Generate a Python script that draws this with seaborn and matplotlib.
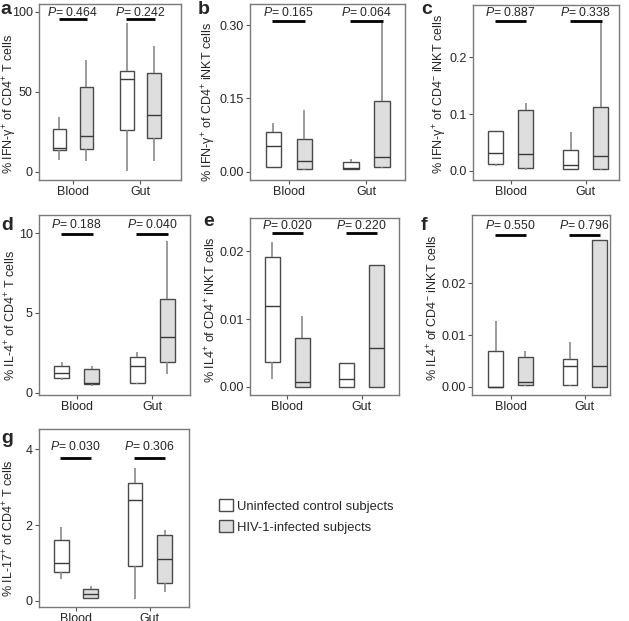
import matplotlib
matplotlib.use("Agg")
import matplotlib.pyplot as plt
from matplotlib.patches import Patch
import seaborn as sns
import pandas as pd

sns.set_style("white")
plt.rcParams["font.family"] = ["Liberation Sans", "DejaVu Sans"]
plt.rcParams["mathtext.fontset"] = "custom"
plt.rcParams["mathtext.rm"] = "Liberation Sans"
plt.rcParams["mathtext.it"] = "Liberation Sans:italic"

tissues = ["Blood", "Gut"]
groups = ["Uninfected control subjects", "HIV-1-infected subjects"]
colors = ["white", "#dedede"]

# five-number summaries (min, q1, median, q3, max)
# order: Blood-uninfected, Blood-HIV, Gut-uninfected, Gut-HIV
ifng_cd4_t = [[7.7, 14, 15.2, 27, 34.4], [6.9, 14.2, 22.3, 53, 69.8],
              [0.6, 26, 58, 63, 93], [7, 21, 35.8, 61.7, 78.7]]
ifng_cd4p_inkt = [[0.009, 0.010, 0.053, 0.081, 0.099], [0.003, 0.005, 0.021, 0.067, 0.126],
                  [0.005, 0.005, 0.007, 0.020, 0.026], [0.007, 0.009, 0.030, 0.144, 0.31]]
ifng_cd4n_inkt = [[0.009, 0.013, 0.032, 0.071, 0.071], [0.001, 0.006, 0.030, 0.107, 0.119],
                  [0.004, 0.004, 0.011, 0.037, 0.069], [0.002, 0.004, 0.026, 0.113, 0.264]]
il4_cd4_t = [[0.79, 0.9, 1.25, 1.67, 1.94], [0.42, 0.55, 0.58, 1.46, 1.67],
             [0.54, 0.58, 1.69, 2.23, 2.56], [1.17, 1.9, 3.5, 5.9, 9.54]]
il4_cd4p_inkt = [[0.0011, 0.0037, 0.0119, 0.0192, 0.0214], [0.0, 0.0, 0.0007, 0.0072, 0.0104],
                 [0.0, 0.0, 0.0011, 0.0035, 0.0035], [0.0, 0.0, 0.0057, 0.018, 0.018]]
il4_cd4n_inkt = [[0.0, 0.0, 0.0, 0.0069, 0.0128], [0.0002, 0.0003, 0.001, 0.0058, 0.0069],
                 [0.0002, 0.0003, 0.004, 0.0053, 0.0086], [0.0, 0.0, 0.0041, 0.0284, 0.0284]]
il17_cd4_t = [[0.59, 0.75, 1.01, 1.6, 1.94], [0.09, 0.09, 0.17, 0.32, 0.40],
              [0.06, 0.92, 2.66, 3.1, 3.49], [0.24, 0.47, 1.1, 1.73, 1.87]]

p_values = {
    "a": ["0.464", "0.242"], "b": ["0.165", "0.064"], "c": ["0.887", "0.338"],
    "d": ["0.188", "0.040"], "e": ["0.020", "0.220"], "f": ["0.550", "0.796"],
    "g": ["0.030", "0.306"],
}

W, H = 629, 621
fig = plt.figure(figsize=(W / 100, H / 100), dpi=100)


def add_ax(l, r, t, b):
    return fig.add_axes([l / W, 1 - b / H, (r - l) / W, (b - t) / H])


def to_frame(summary):
    rows = []
    for i, vals in enumerate(summary):
        for v in vals:
            rows.append({"tissue": tissues[i // 2], "group": groups[i % 2], "value": v})
    return pd.DataFrame(rows)


# (letter, data, ylabel, yticks, ylim, xlim, axes box px, bar y, text y,
#  letter pos px, ylabel right edge px, ylabel centre y px)
panels = [
    ("a", ifng_cd4_t, r"% IFN-γ$^{+}$ of CD4$^{+}$ T cells", [0, 50, 100], (-5, 105),
     (-0.5, 1.6), (39, 181, 4, 180), 95.6, 99.5, (0, 14), 19, 104),
    ("b", ifng_cd4p_inkt, r"% IFN-γ$^{+}$ of CD4$^{+}$ iNKT cells", [0, 0.15, 0.30], (-0.017, 0.343),
     (-0.5, 1.5), (250, 405, 4, 180), 0.309, 0.326, (198, 14), 218, 102),
    ("c", ifng_cd4n_inkt, r"% IFN-γ$^{+}$ of CD4$^{-}$ iNKT cells", [0, 0.1, 0.2], (-0.016, 0.292),
     (-0.5, 1.44), (473, 619, 5, 180), 0.264, 0.279, (421, 14), 449, 94),
    ("d", il4_cd4_t, r"% IL-4$^{+}$ of CD4$^{+}$ T cells", [0, 5, 10], (-0.15, 11.15),
     (-0.5, 1.5), (39, 190, 215, 395), 9.96, 10.55, (1, 230), 18, 316),
    ("e", il4_cd4p_inkt, r"% IL4$^{+}$ of CD4$^{+}$ iNKT cells", [0, 0.01, 0.02], (-0.00123, 0.02495),
     (-0.5, 1.5), (250, 399, 218, 395), 0.0227, 0.0239, (203, 226), 218, 310),
    ("f", il4_cd4n_inkt, r"% IL4$^{+}$ of CD4$^{-}$ iNKT cells", [0, 0.01, 0.02], (-0.0016, 0.0332),
     (-0.52, 1.34), (472, 610, 215, 395), 0.0294, 0.0311, (421, 230), 440, 308),
    ("g", il17_cd4_t, r"% IL-17$^{+}$ of CD4$^{+}$ T cells", [0, 2, 4], (-0.16, 4.53),
     (-0.5, 1.53), (39, 189, 429, 607), 3.76, 4.07, (1, 443), 16, 528),
]

ytick_fmt = {"a": "{:.0f}", "b": "{:.2f}", "c": "{:.1f}", "d": "{:.0f}",
             "e": "{:.2f}", "f": "{:.2f}", "g": "{:.0f}"}

for letter, data, ylabel, yticks, ylim, xlim, box, bar_y, text_y, lpos, lab_x, lab_y in panels:
    ax = add_ax(*box)
    df = to_frame(data)
    sns.boxplot(data=df, x="tissue", y="value", hue="group", order=tissues,
                hue_order=groups, palette=dict(zip(groups, colors)), saturation=1,
                width=0.8, gap=0.5, whis=(0, 100), showcaps=False, fliersize=0,
                linecolor="#4a4a4a", linewidth=1,
                whiskerprops={"color": "#8a8a8a", "linewidth": 1.2},
                medianprops={"color": "#3a3a3a", "linewidth": 1},
                legend=False, ax=ax)
    ax.set_xlim(*xlim)
    ax.set_ylim(*ylim)
    ax.set_yticks(yticks)
    ax.set_yticklabels([ytick_fmt[letter].format(t) for t in yticks], fontsize=9)
    ax.set_xticks([0, 1])
    ax.set_xticklabels(tissues, fontsize=9)
    ax.set_xlabel("")
    ax.set_ylabel(ylabel, fontsize=9)
    ax.yaxis.set_label_coords((lab_x - box[0]) / (box[1] - box[0]),
                              (box[3] - lab_y) / (box[3] - box[2]))
    for s in ax.spines.values():
        s.set_visible(True)
        s.set_color("#7a7a7a")
        s.set_linewidth(1)
    ax.tick_params(axis="both", direction="out", length=3, width=0.8, color="#555555",
                   pad=1.5, bottom=True, left=True)
    for i, p in enumerate(p_values[letter]):
        ax.plot([i - 0.21, i + 0.21], [bar_y, bar_y], color="black", lw=2, solid_capstyle="butt")
        ax.text(i, text_y, r"$P$= " + p, ha="center", va="center", fontsize=8.8)
    fig.text(lpos[0] / W, 1 - lpos[1] / H, letter, fontsize=14, fontweight="bold",
             ha="left", va="baseline")

handles = [Patch(facecolor=c, edgecolor="#4a4a4a", linewidth=1) for c in colors]
fig.legend(handles, groups, loc="upper left", bbox_to_anchor=(219 / W, 1 - 499 / H),
           frameon=False, fontsize=9.4, handlelength=1.05, handleheight=1.05,
           handletextpad=0.35, labelspacing=0.6, borderpad=0, borderaxespad=0)

fig.savefig("out.png", dpi=100)
